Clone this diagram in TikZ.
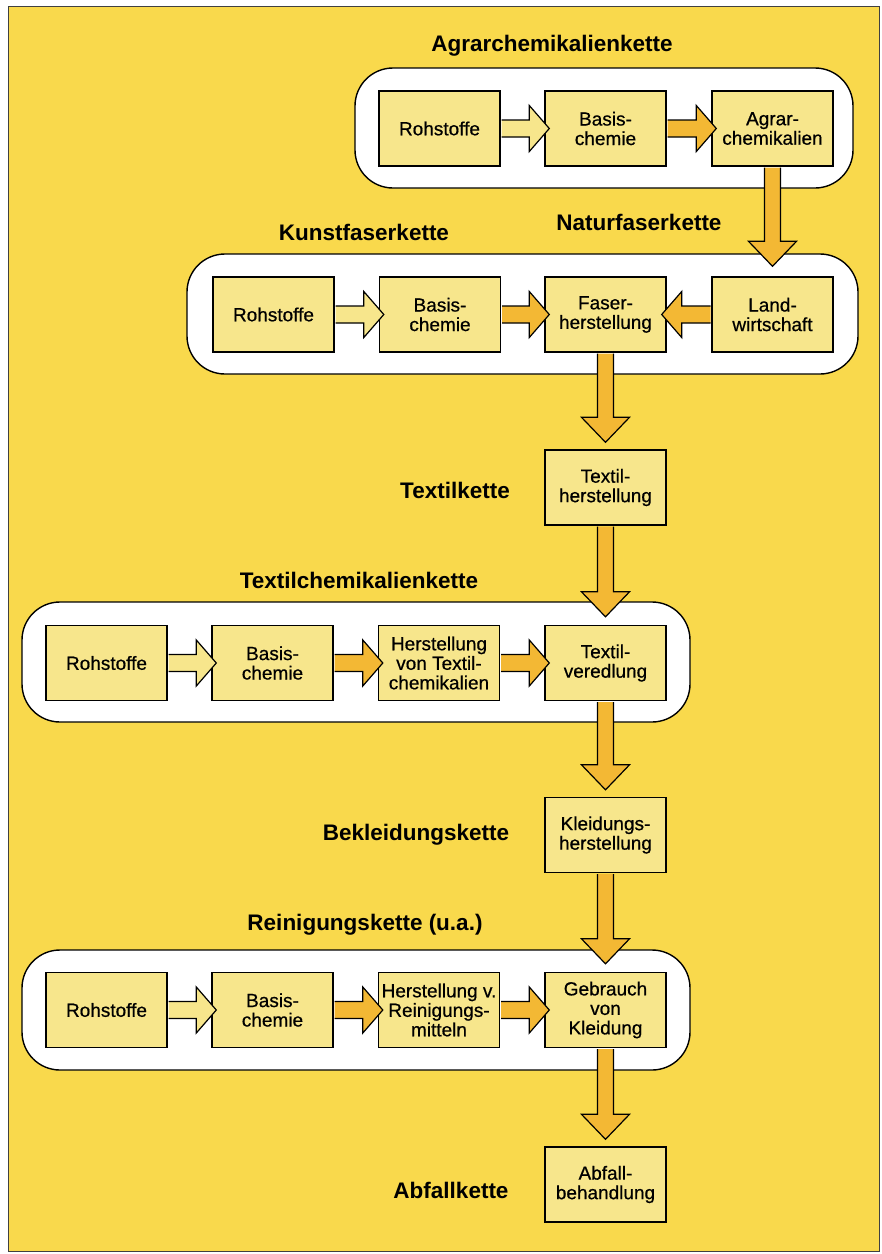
\documentclass[tikz,border=0pt]{standalone}
\usepackage{fontspec}
\setmainfont{Liberation Sans}
\newfontfamily\boxfont[FakeBold=0.6]{Liberation Sans}
\usetikzlibrary{calc}

\definecolor{pageyellow}{RGB}{249,217,76}
\definecolor{boxfill}{RGB}{247,230,140}
\definecolor{arrowamber}{RGB}{243,184,52}

\tikzset{
  chainbox/.style={draw=black, line width=1.4pt, fill=boxfill,
    minimum width=121pt, minimum height=75pt, inner sep=0pt,
    align=center, font=\boxfont\fontsize{19}{19.5}\selectfont},
  groupbox/.style={draw=black, line width=1.4pt, fill=white,
    rounded corners=38pt, minimum height=120pt, inner sep=0pt},
  chaintitle/.style={font=\fontsize{22.5}{25}\selectfont\bfseries, inner sep=0pt},
  palearrow/.style={draw=black, line width=1.2pt, fill=boxfill, line join=miter},
  amberarrow/.style={draw=black, line width=1.2pt, fill=arrowamber, line join=miter}
}

% horizontal block arrow: style, start point, tip point
\newcommand\hconn[3]{%
  \filldraw[#1] let \p1=(#2), \p2=(#3), \n1={(\x2>\x1)?1:-1} in
    (\x1+\n1*0.8pt,\y1+8.5pt) -- (\x2-\n1*20pt,\y1+8.5pt) -- (\x2-\n1*20pt,\y1+23pt)
    -- (\x2,\y1) -- (\x2-\n1*20pt,\y1-23pt) -- (\x2-\n1*20pt,\y1-8.5pt)
    -- (\x1+\n1*0.8pt,\y1-8.5pt);
}
% downward block arrow: style, start point, tip point
\newcommand\vconn[3]{%
  \filldraw[#1] let \p1=(#2), \p2=(#3) in
    (\x1-8pt,\y1-0.8pt) -- (\x1-8pt,\y2+25pt) -- (\x1-24pt,\y2+25pt)
    -- (\x1,\y2) -- (\x1+24pt,\y2+25pt) -- (\x1+8pt,\y2+25pt)
    -- (\x1+8pt,\y1-0.8pt);
}

\begin{document}
\begin{tikzpicture}[x=1pt,y=-1pt]
\useasboundingbox (0,0) rectangle (882,1254);
\fill[white] (0,0) rectangle (882,1254);
\draw[fill=pageyellow, draw=black!75, line width=1pt] (8.5,6.5) rectangle (879.5,1251.5);

% chain groups
\node[groupbox, minimum width=498pt] (g1) at (604,128) {};
\node[groupbox, minimum width=671pt] (g2) at (522.5,314) {};
\node[groupbox, minimum width=668pt] (g3) at (356,662) {};
\node[groupbox, minimum width=668pt] (g4) at (356,1010) {};

% chain titles
\node[chaintitle] (t1) at (552,46) {Agrarchemikalienkette};
\node[chaintitle] (t2) at (639,222) {Naturfaserkette};
\node[chaintitle] (t3) at (364,232) {Kunstfaserkette};
\node[chaintitle] (t4) at (455,490) {Textilkette};
\node[chaintitle] (t5) at (359,580) {Textilchemikalienkette};
\node[chaintitle] (t6) at (416,835) {Bekleidungskette};
\node[chaintitle] (t7) at (365,925) {Reinigungskette (u.a.)};
\node[chaintitle] (t8) at (451,1190) {Abfallkette};

% Agrarchemikalienkette
\node[chainbox] (a1) at (439.5,128.5) {Rohstoffe};
\node[chainbox] (a2) at (605.5,128.5) {Basis-\\chemie};
\node[chainbox] (a3) at (772.5,128.5) {Agrar-\\chemikalien};

% Kunstfaser- / Naturfaserkette
\node[chainbox] (k1) at (273.5,314.5) {Rohstoffe};
\node[chainbox] (k2) at (440,314.5) {Basis-\\chemie};
\node[chainbox] (k3) at (605.5,314.5) {Faser-\\herstellung};
\node[chainbox] (k4) at (772.5,314.5) {Land-\\wirtschaft};

% Textilkette
\node[chainbox] (tx) at (605.5,487.5) {Textil-\\herstellung};

% Textilchemikalienkette
\node[chainbox] (c1) at (106.5,663) {Rohstoffe};
\node[chainbox] (c2) at (272.5,663) {Basis-\\chemie};
\node[chainbox] (c3) at (439,663) {Herstellung\\von Textil-\\chemikalien};
\node[chainbox] (c4) at (605.5,663) {Textil-\\veredlung};

% Bekleidungskette
\node[chainbox] (kl) at (605.5,835) {Kleidungs-\\herstellung};

% Reinigungskette
\node[chainbox] (r1) at (106.5,1010) {Rohstoffe};
\node[chainbox] (r2) at (272.5,1010) {Basis-\\chemie};
\node[chainbox] (r3) at (439,1010) {Herstellung v.\\Reinigungs-\\mitteln};
\node[chainbox] (r4) at (605.5,1010) {Gebrauch\\von\\Kleidung};

% Abfallkette
\node[chainbox] (ab) at (605.5,1184.5) {Abfall-\\behandlung};

% horizontal connectors
\hconn{palearrow}{a1.east}{$(a2.west)+(5,0)$}
\hconn{amberarrow}{a2.east}{$(a3.west)+(5,0)$}
\hconn{palearrow}{k1.east}{$(k2.west)+(5,0)$}
\hconn{amberarrow}{k2.east}{$(k3.west)+(5,0)$}
\hconn{amberarrow}{k4.west}{$(k3.east)+(-5,0)$}
\hconn{palearrow}{c1.east}{$(c2.west)+(5,0)$}
\hconn{amberarrow}{c2.east}{$(c3.west)+(5,0)$}
\hconn{amberarrow}{c3.east}{$(c4.west)+(5,0)$}
\hconn{palearrow}{r1.east}{$(r2.west)+(5,0)$}
\hconn{amberarrow}{r2.east}{$(r3.west)+(5,0)$}
\hconn{amberarrow}{r3.east}{$(r4.west)+(5,0)$}

% vertical connectors
\vconn{amberarrow}{a3.south}{$(k4.north)+(0,-10)$}
\vconn{amberarrow}{k3.south}{$(tx.north)+(0,-7)$}
\vconn{amberarrow}{tx.south}{$(c4.north)+(0,-8)$}
\vconn{amberarrow}{c4.south}{$(kl.north)+(0,-7)$}
\vconn{amberarrow}{kl.south}{$(r4.north)+(0,-8)$}
\vconn{amberarrow}{r4.south}{$(ab.north)+(0,-7)$}
\end{tikzpicture}
\end{document}
